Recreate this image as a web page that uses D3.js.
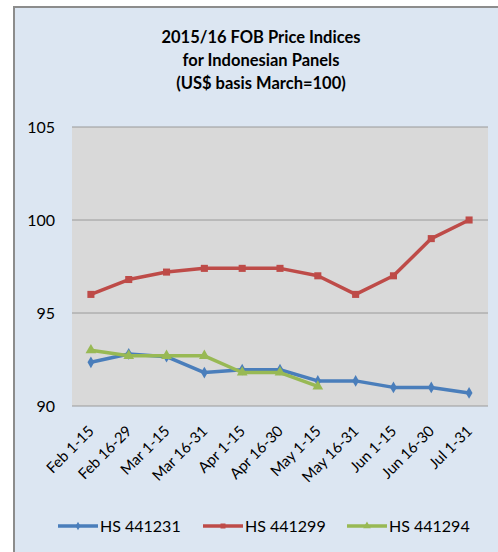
<!DOCTYPE html>
<html>
<head>
<meta charset="utf-8">
<script src="https://cdn.jsdelivr.net/npm/d3@7"></script>
<style>
  body { margin: 0; background: #fff; }
  svg { display: block; font-family: Lato, "Open Sans", sans-serif; }
</style>
</head>
<body>
<svg width="498" height="552"></svg>
<script>
const width = 498, height = 552;
const svg = d3.select("svg");

const periods = ["Feb 1-15", "Feb 16-29", "Mar 1-15", "Mar 16-31", "Apr 1-15", "Apr 16-30",
  "May 1-15", "May 16-31", "Jun 1-15", "Jun 16-30", "Jul 1-31"];
const hs441231 = [92.35, 92.8, 92.65, 91.8, 91.95, 91.95, 91.35, 91.35, 91.0, 91.0, 90.7];
const hs441299 = [96.0, 96.8, 97.2, 97.4, 97.4, 97.4, 97.0, 96.0, 97.0, 99.0, 100.0];
const hs441294 = [93.0, 92.7, 92.7, 92.7, 91.8, 91.8, 91.05];
const yTicks = [90, 95, 100, 105];
const titleLines = ["2015/16 FOB Price Indices", "for Indonesian Panels", "(US$ basis March=100)"];

const series = [
  { name: "HS 441231", values: hs441231, color: "#4A7EBB", marker: "diamond" },
  { name: "HS 441299", values: hs441299, color: "#BE4B48", marker: "square" },
  { name: "HS 441294", values: hs441294, color: "#98B954", marker: "triangle" }
];

const plot = { left: 72, right: 488, top: 127, bottom: 406 };

// chart background + border
svg.append("rect").attr("x", 14).attr("y", 7).attr("width", 500).attr("height", 560)
  .attr("fill", "#DCE6F2").attr("stroke", "#8C8C8C").attr("stroke-width", 2);

svg.append("g").selectAll("text").data(titleLines).join("text")
  .attr("x", 261).attr("y", (d, i) => 43 + i * 23)
  .attr("text-anchor", "middle")
  .style("font-size", "16.5px").style("font-weight", "bold").style("fill", "#000")
  .text(d => d);

const x = d3.scaleBand().domain(periods).range([plot.left, plot.right]);
const y = d3.scaleLinear().domain([90, 105]).range([plot.bottom, plot.top]);

svg.append("rect").attr("x", plot.left).attr("y", plot.top)
  .attr("width", plot.right - plot.left).attr("height", plot.bottom - plot.top)
  .attr("fill", "#D9D9D9");

// gridlines
svg.append("g").selectAll("line").data(yTicks).join("line")
  .attr("x1", plot.left).attr("x2", plot.right)
  .attr("y1", d => y(d)).attr("y2", d => y(d))
  .attr("stroke", "#9A9A9A").attr("stroke-width", 1);

const yAxis = svg.append("g").attr("transform", `translate(${plot.left},0)`)
  .call(d3.axisLeft(y).tickValues(yTicks).tickSize(0).tickPadding(17));
yAxis.select(".domain").remove();
yAxis.selectAll("text").style("font-size", "16px").style("fill", "#000").style("font-family", "Lato, sans-serif");

const xAxis = svg.append("g").attr("transform", `translate(0,${plot.bottom})`)
  .call(d3.axisBottom(x).tickSize(0));
xAxis.select(".domain").remove();
xAxis.selectAll("text")
  .style("font-size", "15px").style("fill", "#000").style("font-family", "Lato, sans-serif")
  .attr("text-anchor", "end")
  .attr("y", 0).attr("dy", null)
  .attr("transform", "translate(4,26) rotate(-45)");

const cx = i => x(periods[i]) + x.bandwidth() / 2;
const line = d3.line().x((d, i) => cx(i)).y(d => y(d));

const markerPath = (type, s) => {
  if (type === "diamond") return d3.symbol(d3.symbolDiamond, s * 0.8)();
  if (type === "square") return d3.symbol(d3.symbolSquare, s)();
  return d3.symbol(d3.symbolTriangle, s)();
};

series.forEach(sr => {
  const g = svg.append("g");
  g.append("path").datum(sr.values)
    .attr("fill", "none").attr("stroke", sr.color).attr("stroke-width", 3.5)
    .attr("stroke-linejoin", "round").attr("d", line);
  g.selectAll("path.m").data(sr.values).join("path").attr("class", "m")
    .attr("transform", (d, i) => `translate(${cx(i)},${y(d)})`)
    .attr("d", markerPath(sr.marker, 50))
    .attr("fill", sr.color);
});

// legend
const legendX = [58, 203, 347];
const legend = svg.append("g").selectAll("g").data(series).join("g")
  .attr("transform", (d, i) => `translate(${legendX[i]},526)`);
legend.append("line").attr("x1", 0).attr("x2", 40).attr("y1", 0).attr("y2", 0)
  .attr("stroke", d => d.color).attr("stroke-width", 3.5);
legend.append("path").attr("transform", "translate(20,0)")
  .attr("d", d => markerPath(d.marker, 25)).attr("fill", d => d.color);
legend.append("text").attr("x", 42).attr("y", 6)
  .style("font-size", "16px").style("fill", "#000").text(d => d.name);
</script>
</body>
</html>
